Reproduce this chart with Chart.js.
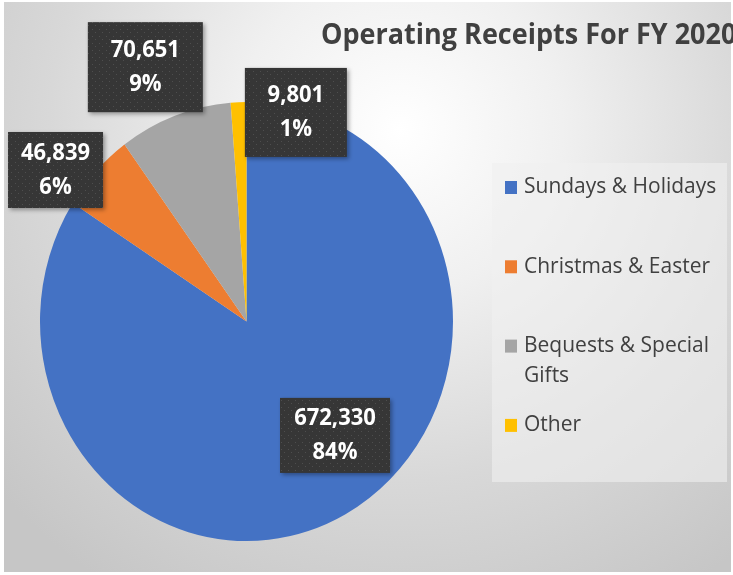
<!DOCTYPE html>
<html>
<head>
<meta charset="utf-8">
<script src="https://cdn.jsdelivr.net/npm/chart.js@4.4.1/dist/chart.umd.min.js"></script>
<style>
  html, body { margin: 0; padding: 0; background: #fff; }
  canvas { display: block; }
</style>
</head>
<body>
<canvas id="receipts-pie" width="733" height="575"></canvas>
<script>
// data
const categories = ["Sundays & Holidays", "Christmas & Easter", "Bequests & Special Gifts", "Other"];
const receipts = [672330, 46839, 70651, 9801];
const sliceColors = ["#4472C4", "#ED7D31", "#A5A5A5", "#FFC000"];
const chartTitle = "Operating Receipts For FY 2020";

// the source picture is stretched a bit vertically, so the pie is an ellipse
const stretchY = 1.063;

// label boxes: where along the slice they sit (fraction of radius, angle shift in deg) and box size
const labelPlacement = [
    { dist: 0.673, shift: -10.9, w: 110, h: 75 },
    { dist: 1.154, shift: -6.5, w: 95, h: 76 },
    { dist: 1.258, shift: -2.6, w: 115, h: 90 },
    { dist: 0.982, shift: 16.3, w: 102, h: 89 }
];

// little dotted fill like the excel data label boxes
function dottedPattern(ctx) {
    const tile = document.createElement("canvas");
    tile.width = 7;
    tile.height = 7;
    const t = tile.getContext("2d");
    t.fillStyle = "#363636";
    t.fillRect(0, 0, 7, 7);
    t.fillStyle = "#4e4e4e";
    t.fillRect(1, 1, 1, 1);
    t.fillRect(4, 4, 1, 1);
    return ctx.createPattern(tile, "repeat");
}

// split legend text to fit the box
function wrapText(ctx, text, maxWidth) {
    const words = text.split(" ");
    const lines = [];
    let line = "";
    words.forEach((w) => {
        const test = line ? line + " " + w : w;
        if (ctx.measureText(test).width > maxWidth && line) {
            lines.push(line);
            line = w;
        } else {
            line = test;
        }
    });
    lines.push(line);
    return lines;
}

// text stretched like the rest of the picture
function tallText(ctx, str, x, y) {
    ctx.save();
    ctx.translate(x, y);
    ctx.scale(1, stretchY);
    ctx.fillText(str, 0, 0);
    ctx.restore();
}

const backgroundPlugin = {
    id: "background",
    beforeDraw(chart) {
        const ctx = chart.ctx;
        ctx.save();
        ctx.fillStyle = "#ffffff";
        ctx.fillRect(0, 0, chart.width, chart.height);
        const g = ctx.createRadialGradient(400, 130, 0, 400, 130, 540);
        g.addColorStop(0, "#ffffff");
        g.addColorStop(0.3, "#f0f0f0");
        g.addColorStop(0.65, "#d8d8d8");
        g.addColorStop(1, "#c6c6c6");
        ctx.fillStyle = g;
        ctx.fillRect(4, 2, 727, 570);

        // legend panel
        ctx.fillStyle = "rgba(240, 240, 240, 0.6)";
        ctx.fillRect(492, 163, 235, 319);
        ctx.restore();
    }
};

const ellipsePlugin = {
    id: "ellipse",
    beforeDatasetsDraw(chart) {
        const ctx = chart.ctx;
        const area = chart.chartArea;
        const cy = (area.top + area.bottom) / 2;
        ctx.save();
        ctx.translate(0, cy);
        ctx.scale(1, stretchY);
        ctx.translate(0, -cy);
    },
    afterDatasetsDraw(chart) {
        chart.ctx.restore();
    }
};

const labelsPlugin = {
    id: "sliceLabels",
    afterDraw(chart) {
        const ctx = chart.ctx;
        const meta = chart.getDatasetMeta(0);
        const values = chart.data.datasets[0].data;
        const total = values.reduce((a, b) => a + b, 0);
        const pattern = dottedPattern(ctx);

        meta.data.forEach((arc, i) => {
            const p = arc.getProps(["startAngle", "endAngle", "x", "y", "outerRadius"], true);
            const place = labelPlacement[i];
            const mid = (p.startAngle + p.endAngle) / 2 + place.shift * Math.PI / 180;
            const cx = p.x + Math.cos(mid) * p.outerRadius * place.dist;
            const cy = p.y + Math.sin(mid) * p.outerRadius * place.dist * stretchY;

            ctx.save();
            ctx.shadowColor = "rgba(0, 0, 0, 0.35)";
            ctx.shadowBlur = 4;
            ctx.shadowOffsetX = 2;
            ctx.shadowOffsetY = 2;
            ctx.fillStyle = pattern;
            ctx.fillRect(cx - place.w / 2, cy - place.h / 2, place.w, place.h);
            ctx.restore();

            ctx.save();
            ctx.fillStyle = "#ffffff";
            ctx.font = "bold 22px 'Open Sans'";
            ctx.textAlign = "center";
            ctx.textBaseline = "middle";
            tallText(ctx, values[i].toLocaleString("en-US"), cx, cy - 17);
            tallText(ctx, Math.round(values[i] / total * 100) + "%", cx, cy + 17);
            ctx.restore();
        });

        // title, runs off the right edge like the original
        ctx.save();
        ctx.fillStyle = "#404040";
        ctx.font = "bold 27px 'Open Sans'";
        ctx.textAlign = "left";
        ctx.textBaseline = "middle";
        tallText(ctx, chartTitle, 321, 36);
        ctx.restore();

        // legend, drawn by hand so the long label can wrap
        ctx.save();
        ctx.font = "21px 'Open Sans'";
        ctx.textBaseline = "middle";
        ctx.textAlign = "left";
        chart.data.labels.forEach((label, i) => {
            const y = 187 + i * 79.3;
            ctx.fillStyle = chart.data.datasets[0].backgroundColor[i];
            ctx.fillRect(505, y - 6, 12, 13);
            ctx.fillStyle = "#404040";
            const lines = wrapText(ctx, label, 200);
            lines.forEach((ln, k) => tallText(ctx, ln, 524, y + k * 30));
        });
        ctx.restore();
    }
};

new Chart(document.getElementById("receipts-pie"), {
    type: "pie",
    data: {
        labels: categories,
        datasets: [{
            data: receipts,
            backgroundColor: sliceColors,
            borderWidth: 0,
            clip: false
        }]
    },
    options: {
        responsive: false,
        animation: false,
        devicePixelRatio: 1,
        layout: {
            padding: { left: 40, right: 280, top: 115, bottom: 47 }
        },
        plugins: {
            legend: { display: false }, // drawn in sliceLabels plugin
            title: { display: false },
            tooltip: { enabled: false }
        }
    },
    plugins: [backgroundPlugin, ellipsePlugin, labelsPlugin]
});
</script>
</body>
</html>
